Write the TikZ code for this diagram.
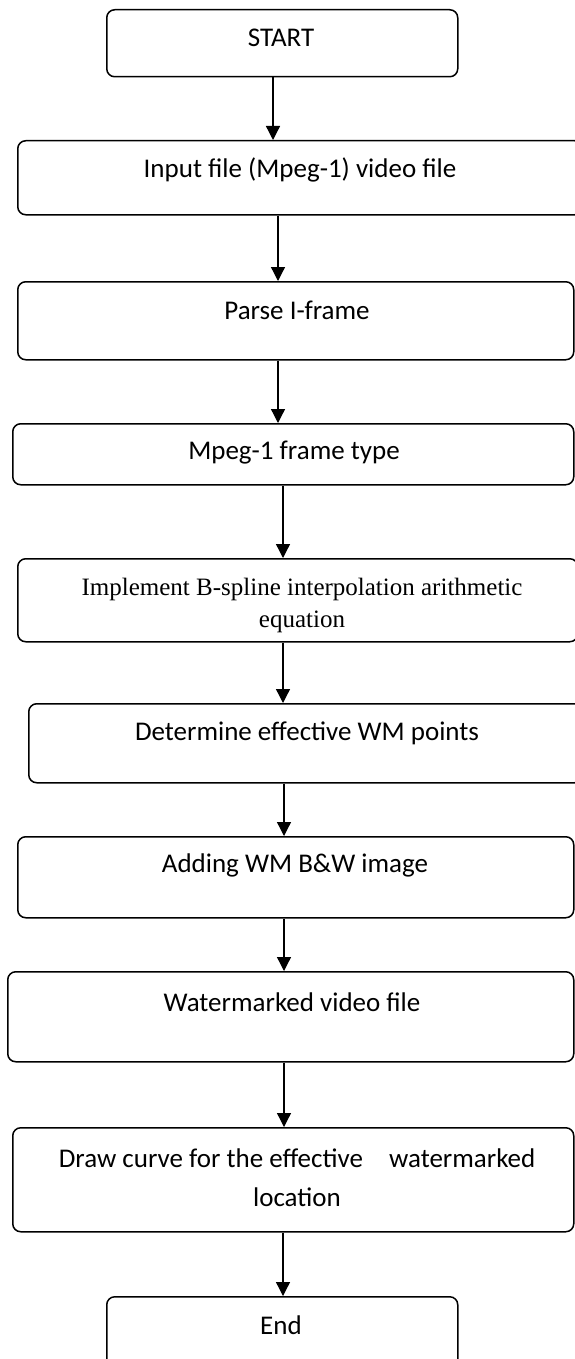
\documentclass[tikz,border=0pt]{standalone}
\usepackage{fontspec}
\setmainfont{Carlito}
\newfontfamily\serifbox{Liberation Serif}
\usetikzlibrary{arrows.meta}

\begin{document}
\begin{tikzpicture}[x=1pt, y=-1pt,
    box/.style={draw, line width=1.5pt, rounded corners=8pt, anchor=north west, inner sep=0pt},
    txt/.style={font=\fontsize{27}{39}\selectfont, align=center, inner sep=0pt},
    arr/.style={-{Triangle[width=14pt,length=14pt]}, line width=1.3pt}]
    \useasboundingbox (0,0) rectangle (574,1359);

    % boxes
    \node[box, minimum width=351, minimum height=67] (start) at (106,9) {};
    \node[box, minimum width=565, minimum height=74] (input) at (17,140) {};
    \node[box, minimum width=556, minimum height=78] (parse) at (17,281) {};
    \node[box, minimum width=561, minimum height=61] (mpeg) at (12,423) {};
    \node[box, minimum width=560, minimum height=83] (impl) at (17,558) {};
    \node[box, minimum width=554, minimum height=79] (determ) at (28,703) {};
    \node[box, minimum width=556, minimum height=81] (adding) at (17,836) {};
    \node[box, minimum width=566, minimum height=90] (water) at (7,971) {};
    \node[box, minimum width=561, minimum height=104] (curve) at (12,1127) {};
    \node[box, minimum width=351, minimum height=75] (end) at (106,1296) {};

    % texts
    \node[txt] (tstart) at (281,38) {START};
    \node[txt] (tinput) at (300,170) {Input file (Mpeg-1) video file};
    \node[txt] (tparse) at (297,310) {Parse I-frame};
    \node[txt] (tmpeg) at (294,453) {Mpeg-1 frame type};
    \node[txt, font=\serifbox\fontsize{25}{32}\selectfont] (timpl) at (302,605)
        {Implement B-spline interpolation arithmetic\\equation};
    \node[txt] (tdeterm) at (307,733) {Determine effective WM points};
    \node[txt] (tadding) at (295,865) {Adding WM B\&W image};
    \node[txt] (twater) at (292,1002) {Watermarked video file};
    \node[txt] (tcurve) at (297,1178) {Draw curve for the effective\hspace{20pt} watermarked\\location};
    \node[txt] (tend) at (281,1325) {End};

    % arrows
    \draw[arr] (273,0 |- start.south) -- (273,0 |- input.north);
    \draw[arr] (278,0 |- input.south) -- (278,0 |- parse.north);
    \draw[arr] (278,0 |- parse.south) -- (278,0 |- mpeg.north);
    \draw[arr] (283,0 |- mpeg.south) -- (283,0 |- impl.north);
    \draw[arr] (283,0 |- impl.south) -- (283,0 |- determ.north);
    \draw[arr] (284,0 |- determ.south) -- (284,0 |- adding.north);
    \draw[arr] (284,0 |- adding.south) -- (284,0 |- water.north);
    \draw[arr] (284,0 |- water.south) -- (284,0 |- curve.north);
    \draw[arr] (283,0 |- curve.south) -- (283,0 |- end.north);
\end{tikzpicture}
\end{document}
